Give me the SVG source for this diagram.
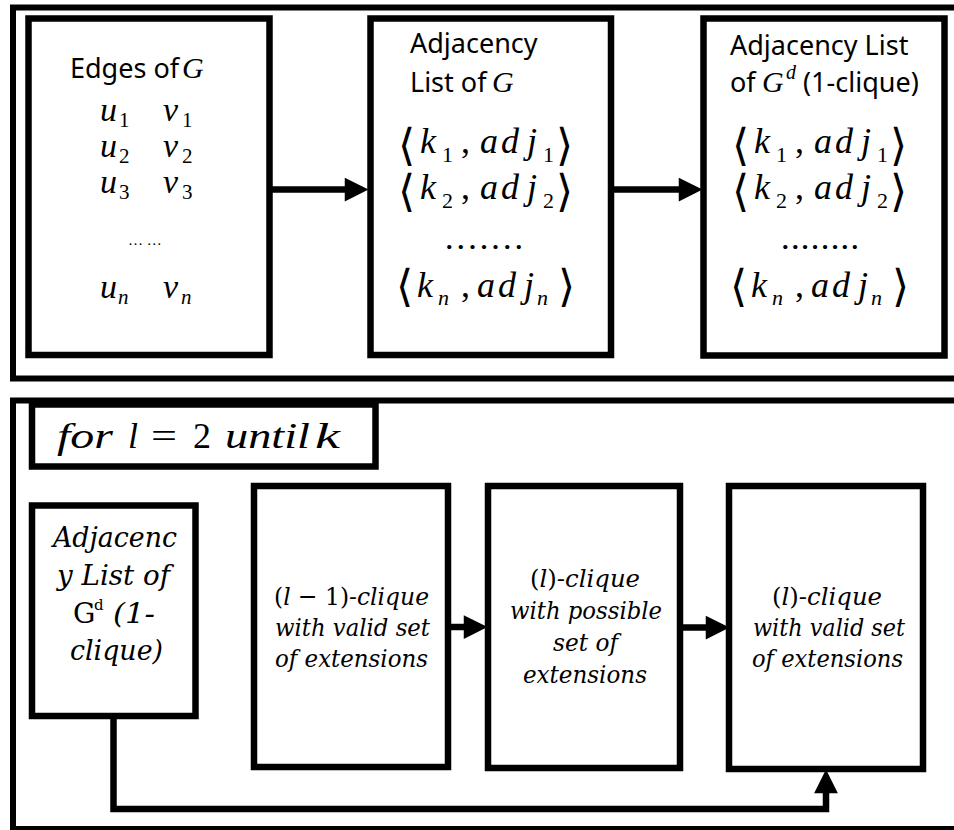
<svg xmlns="http://www.w3.org/2000/svg" width="954" height="830" viewBox="0 0 954 830">
<style>
.frame{fill:none;stroke:#000;stroke-width:6}
.box{fill:#fff;stroke:#000;stroke-width:6.5}
.conn{fill:none;stroke:#000;stroke-width:6.5}
.sans{font-family:"Noto Sans","Open Sans",sans-serif;font-size:27px;fill:#000}
.mi{font-family:"Liberation Serif",serif;font-style:italic;fill:#000}
.mr{font-family:"Liberation Serif",serif;font-style:normal;fill:#000}
.br{font-family:"DejaVu Sans",sans-serif;font-style:normal;font-size:44px;fill:#000}
.big{font-size:36px}
.sub{font-size:22px}
.m32{font-size:34px}
.s21{font-size:21px}
.it{font-family:"DejaVu Serif",serif;font-style:italic;fill:#000}
.ir{font-family:"DejaVu Serif",serif;font-style:normal}
</style>
<defs>
<marker id="ah" markerUnits="userSpaceOnUse" markerWidth="30" markerHeight="30" viewBox="-2 -12 24 24" refX="9" refY="0" orient="auto">
<path d="M0,-9.5 L19,0 L0,9.5 z" fill="#000"/>
</marker>
</defs>
<rect width="954" height="830" fill="#fff"/>
<g id="frames">
<rect class="frame" x="13" y="7.5" width="960" height="371"/>
<rect class="frame" x="13" y="400.5" width="960" height="428.5"/>
</g>
<g id="connectors">
<line class="conn" x1="272" y1="189.5" x2="356" y2="189.5" marker-end="url(#ah)"/>
<line class="conn" x1="614" y1="189.5" x2="690" y2="189.5" marker-end="url(#ah)"/>
<line class="conn" x1="451" y1="627" x2="475" y2="627" marker-end="url(#ah)"/>
<line class="conn" x1="683" y1="627.5" x2="717" y2="627.5" marker-end="url(#ah)"/>
<path class="conn" d="M113.5,719 V809 H826 V782" marker-end="url(#ah)"/>
</g>
<g id="edges">
<rect class="box" x="28.5" y="18.5" width="241" height="336.5"/>
<text class="sans" x="70" y="78">Edges of</text>
<text class="mi" font-size="30" x="182" y="78">G</text>
<text class="mi m32" x="100" y="121">u</text><text class="mr s21" x="119" y="127">1</text>
<text class="mi m32" x="163" y="121">v</text><text class="mr s21" x="182" y="127">1</text>
<text class="mi m32" x="100" y="157">u</text><text class="mr s21" x="119" y="163">2</text>
<text class="mi m32" x="163" y="157">v</text><text class="mr s21" x="182" y="163">2</text>
<text class="mi m32" x="100" y="193">u</text><text class="mr s21" x="119" y="199">3</text>
<text class="mi m32" x="163" y="193">v</text><text class="mr s21" x="182" y="199">3</text>
<text class="mr" font-size="15" x="128" y="245">… …</text>
<text class="mi m32" x="100" y="298">u</text><text class="mi s21" x="118" y="304">n</text>
<text class="mi m32" x="163" y="298">v</text><text class="mi s21" x="181" y="304">n</text>
</g>
<g id="adjG">
<rect class="box" x="370.5" y="18.5" width="240.5" height="336.5"/>
<text class="sans" x="410" y="53">Adjacency</text>
<text class="sans" x="410" y="92">List of</text>
<text class="mi" font-size="30" x="492" y="92">G</text>
<text class="br" x="398" y="160">⟨</text><text class="mi big" x="420" y="153">k</text><text class="mr sub" x="442" y="162">1</text><text class="mr big" x="461" y="153">,</text><text class="mi big" x="480" y="153">a</text><text class="mi big" x="501" y="153">d</text><text class="mi big" x="527" y="153">j</text><text class="mr sub" x="543" y="162">1</text><text class="br" x="556" y="160">⟩</text>
<text class="br" x="398" y="206">⟨</text><text class="mi big" x="420" y="199">k</text><text class="mr sub" x="442" y="208">2</text><text class="mr big" x="461" y="199">,</text><text class="mi big" x="480" y="199">a</text><text class="mi big" x="501" y="199">d</text><text class="mi big" x="527" y="199">j</text><text class="mr sub" x="543" y="208">2</text><text class="br" x="556" y="206">⟩</text>
<text class="mr" font-size="26" font-weight="bold" x="446" y="249" textLength="76" lengthAdjust="spacing">.......</text>
<text class="br" x="396" y="301">⟨</text><text class="mi big" x="417" y="297">k</text><text class="mi sub" x="438" y="305">n</text><text class="mr big" x="461" y="297">,</text><text class="mi big" x="477" y="297">a</text><text class="mi big" x="498" y="297">d</text><text class="mi big" x="524" y="297">j</text><text class="mi sub" x="537" y="305">n</text><text class="br" x="558" y="301">⟩</text>
</g>
<g id="adjGd">
<rect class="box" x="703.5" y="18.5" width="241" height="337"/>
<text class="sans" x="730" y="55">Adjacency List</text>
<text class="sans" x="730" y="92">of</text>
<text class="mi" font-size="30" x="762" y="92">G</text>
<text class="mi" font-size="20" x="786" y="79">d</text>
<text class="sans" x="803" y="92">(1-clique)</text>
<text class="br" x="732" y="160">⟨</text><text class="mi big" x="754" y="153">k</text><text class="mr sub" x="776" y="162">1</text><text class="mr big" x="795" y="153">,</text><text class="mi big" x="814" y="153">a</text><text class="mi big" x="835" y="153">d</text><text class="mi big" x="861" y="153">j</text><text class="mr sub" x="877" y="162">1</text><text class="br" x="890" y="160">⟩</text>
<text class="br" x="732" y="206">⟨</text><text class="mi big" x="754" y="199">k</text><text class="mr sub" x="776" y="208">2</text><text class="mr big" x="795" y="199">,</text><text class="mi big" x="814" y="199">a</text><text class="mi big" x="835" y="199">d</text><text class="mi big" x="861" y="199">j</text><text class="mr sub" x="877" y="208">2</text><text class="br" x="890" y="206">⟩</text>
<text class="mi" font-size="26" font-weight="bold" x="783" y="249" textLength="76" lengthAdjust="spacing">........</text>
<text class="br" x="730" y="301">⟨</text><text class="mi big" x="751" y="297">k</text><text class="mi sub" x="772" y="305">n</text><text class="mr big" x="795" y="297">,</text><text class="mi big" x="811" y="297">a</text><text class="mi big" x="832" y="297">d</text><text class="mi big" x="858" y="297">j</text><text class="mi sub" x="871" y="305">n</text><text class="br" x="892" y="301">⟩</text>
</g>
<g id="forLoop">
<rect class="box" x="32" y="404.5" width="343.5" height="62"/>
<text class="mi big" x="57" y="448" textLength="56" lengthAdjust="spacingAndGlyphs">for</text>
<text class="mi big" x="128" y="448">l</text>
<text class="mr big" x="151" y="448" textLength="26" lengthAdjust="spacingAndGlyphs">=</text>
<text class="mr big" x="193" y="448">2</text>
<text class="mi big" x="225" y="448" textLength="85" lengthAdjust="spacingAndGlyphs">until</text>
<text class="mi big" x="315" y="448" textLength="25" lengthAdjust="spacingAndGlyphs">k</text>
</g>
<g id="adjInput">
<rect class="box" x="32" y="505.5" width="163.5" height="210.5"/>
<text class="it" font-size="28" x="53" y="547" textLength="124" lengthAdjust="spacingAndGlyphs">Adjacenc</text>
<text class="it" font-size="28" x="57" y="585" textLength="113" lengthAdjust="spacingAndGlyphs">y List of</text>
<text class="ir" font-size="28" x="73" y="623">G</text>
<text class="ir" font-size="15" x="94" y="610">d</text>
<text class="it" font-size="28" x="113" y="623" textLength="42" lengthAdjust="spacingAndGlyphs">(1-</text>
<text class="it" font-size="28" x="70" y="660" textLength="93" lengthAdjust="spacingAndGlyphs">clique)</text>
</g>
<g id="prevClique">
<rect class="box" x="254" y="486" width="194" height="281"/>
<text class="it" font-size="25" x="274" y="605" textLength="155" lengthAdjust="spacingAndGlyphs"><tspan class="ir">(</tspan>l<tspan class="ir"> − 1)</tspan>-clique</text>
<text class="it" font-size="25" x="275" y="636" textLength="155" lengthAdjust="spacingAndGlyphs">with valid set</text>
<text class="it" font-size="25" x="275" y="667" textLength="153" lengthAdjust="spacingAndGlyphs">of extensions</text>
</g>
<g id="possibleClique">
<rect class="box" x="488" y="486" width="192" height="282"/>
<text class="it" font-size="25" x="530" y="587" textLength="110" lengthAdjust="spacingAndGlyphs"><tspan class="ir">(</tspan>l<tspan class="ir">)</tspan>-clique</text>
<text class="it" font-size="25" x="510" y="619" textLength="152" lengthAdjust="spacingAndGlyphs">with possible</text>
<text class="it" font-size="25" x="553" y="651" textLength="65" lengthAdjust="spacingAndGlyphs">set of</text>
<text class="it" font-size="25" x="523" y="683" textLength="124" lengthAdjust="spacingAndGlyphs">extensions</text>
</g>
<g id="validClique">
<rect class="box" x="729" y="486" width="194" height="283"/>
<text class="it" font-size="25" x="772" y="605" textLength="110" lengthAdjust="spacingAndGlyphs"><tspan class="ir">(</tspan>l<tspan class="ir">)</tspan>-clique</text>
<text class="it" font-size="25" x="753" y="636" textLength="152" lengthAdjust="spacingAndGlyphs">with valid set</text>
<text class="it" font-size="25" x="752" y="667" textLength="151" lengthAdjust="spacingAndGlyphs">of extensions</text>
</g>
</svg>
